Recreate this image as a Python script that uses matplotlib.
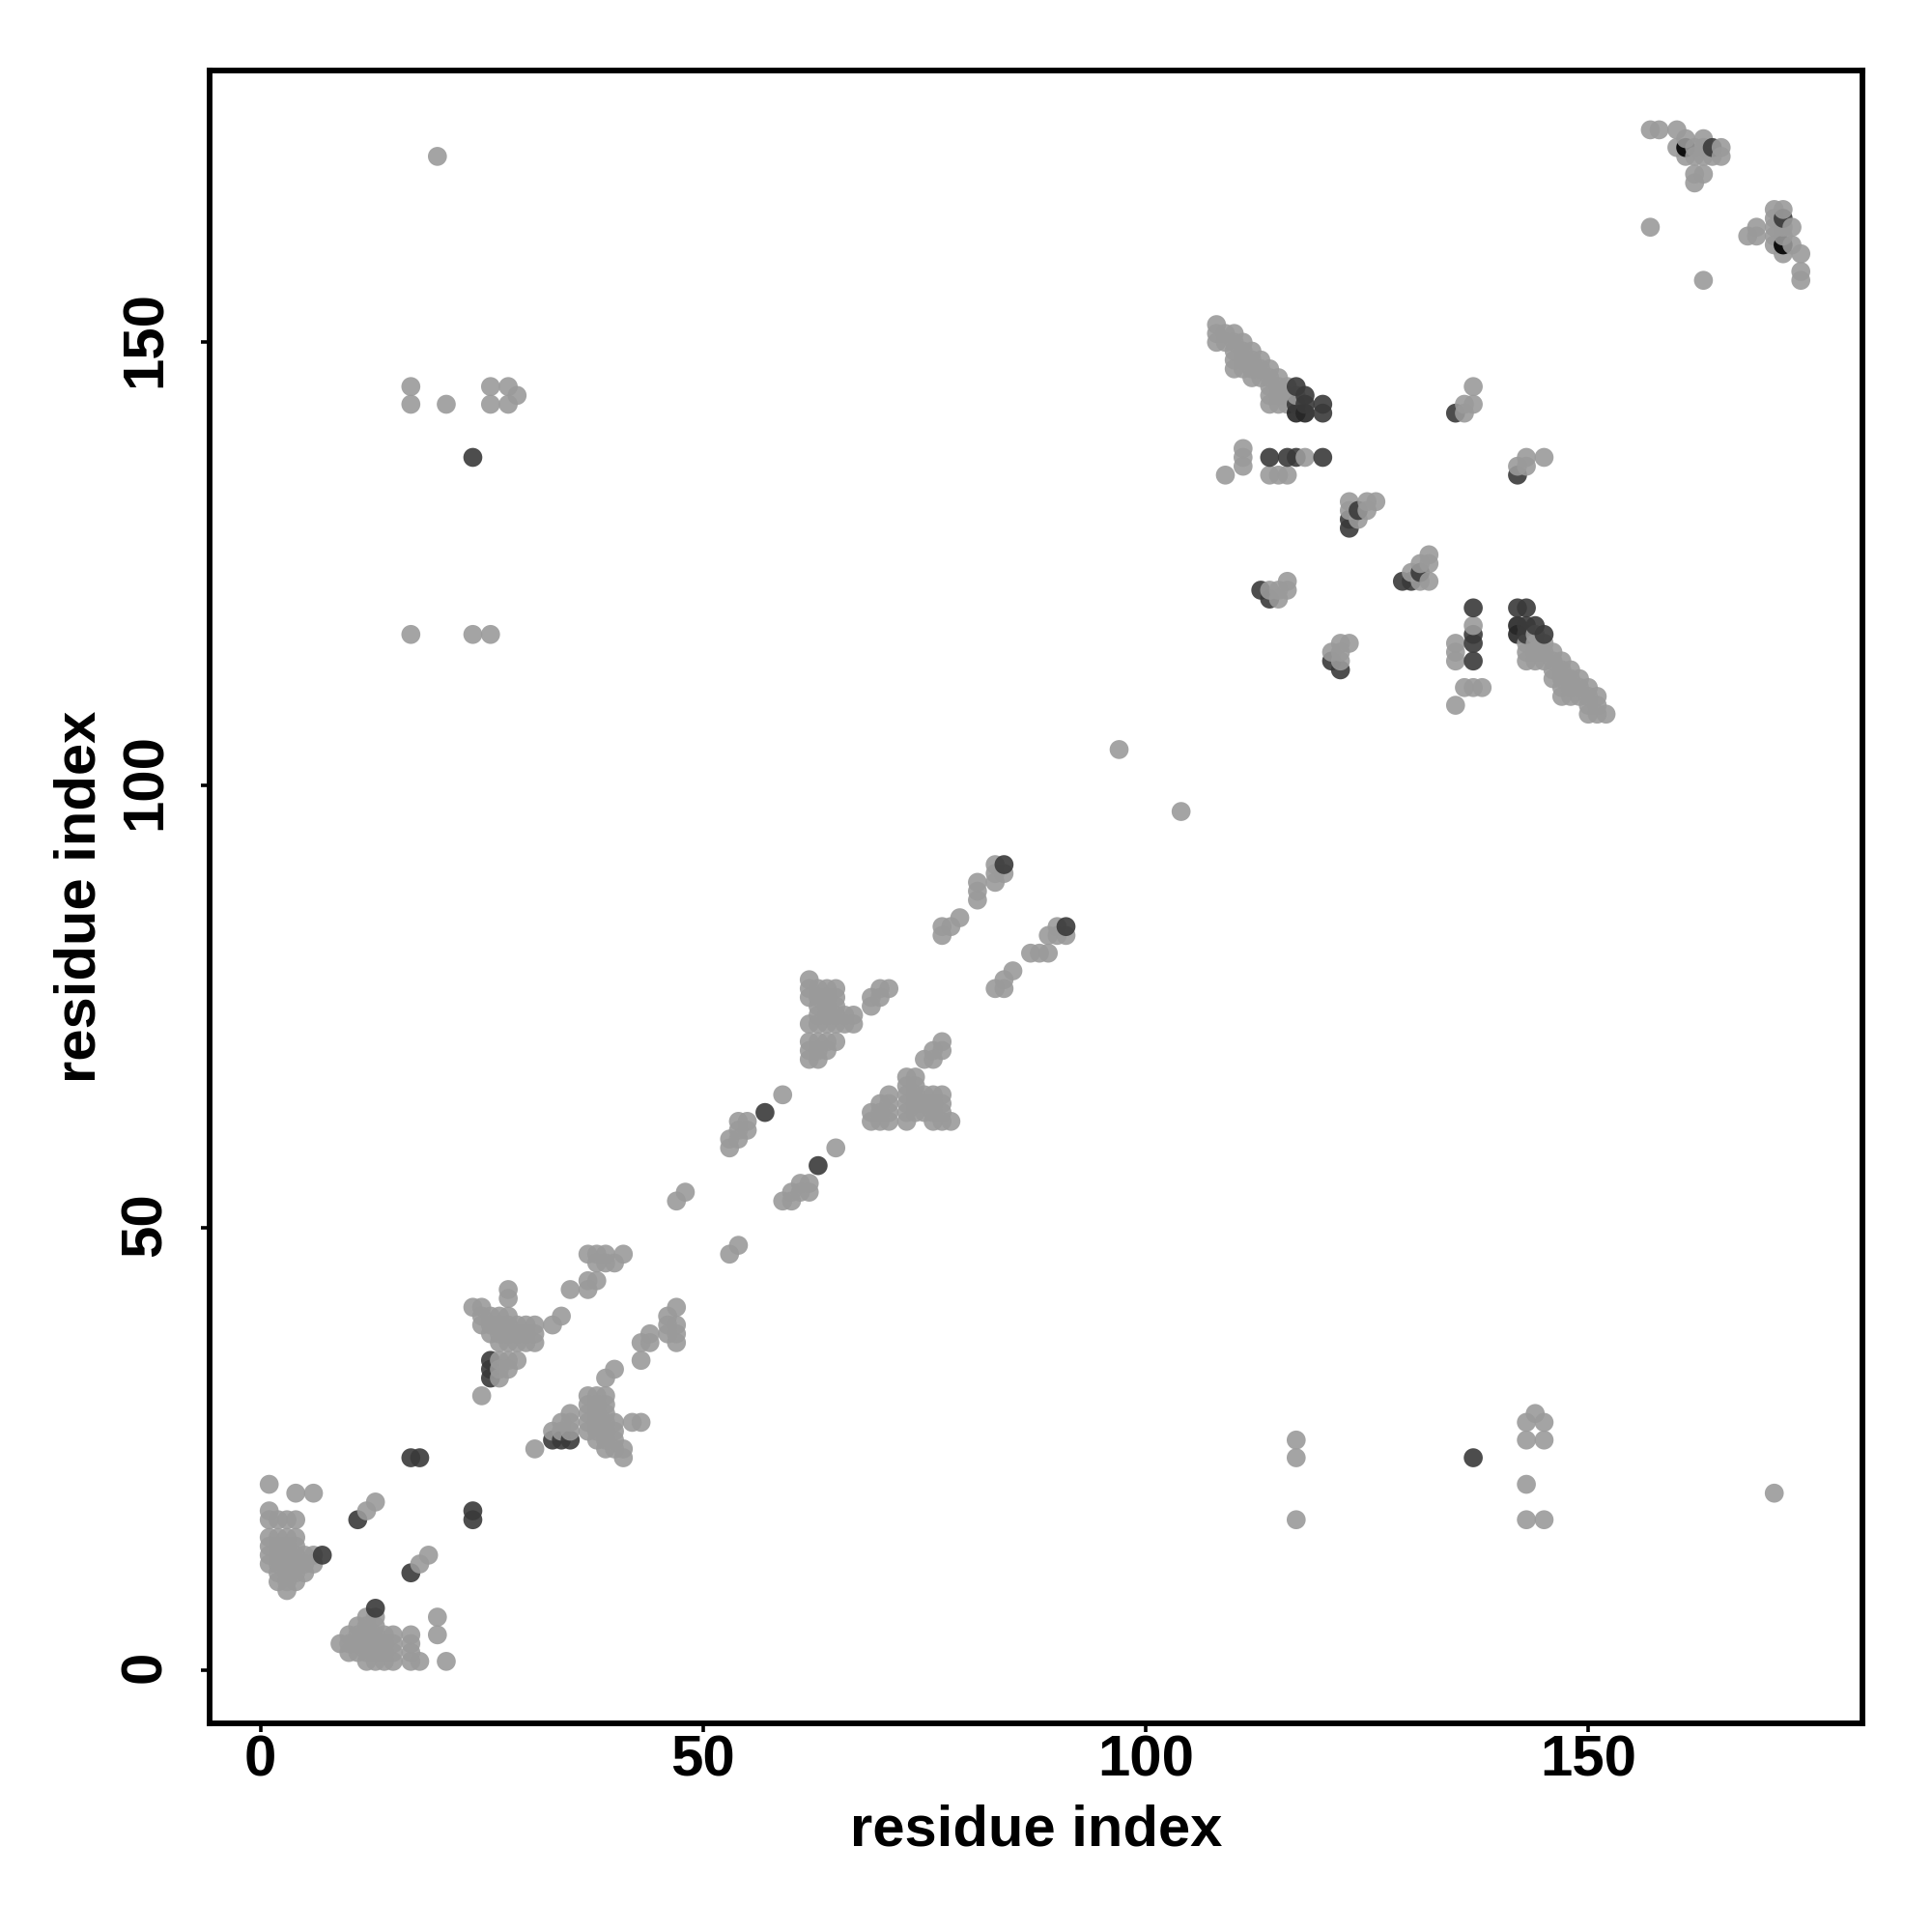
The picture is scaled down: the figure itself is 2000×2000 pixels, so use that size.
import matplotlib
matplotlib.use("Agg")
import matplotlib.pyplot as plt
from matplotlib.transforms import ScaledTranslation

# contacts as (residue, [partner residues]), only the half with residue < partner
light_contacts = [
    (1, [12, 13, 14, 15, 17, 18, 21]),
    (2, [10, 11, 12, 13, 14, 15, 17]),
    (3, [9, 10, 11, 12, 13, 14, 15, 17]),
    (4, [10, 11, 12, 13, 14, 15, 17, 20]),
    (5, [11, 12, 13]),
    (6, [12, 13, 20]),
    (12, [18]),
    (13, [19]),
    (17, [117, 143, 145]),
    (20, [171]),
    (21, [143]),
    (24, [41, 117]),
    (25, [31, 39, 40, 41]),
    (26, [38, 39, 40, 117, 143, 145]),
    (27, [33, 34, 35, 37, 38, 39, 40]),
    (28, [34, 35, 37, 38, 39, 40, 42, 43, 143, 145]),
    (29, [35, 37, 38, 39, 144]),
    (30, [37, 38, 39]),
    (31, [37, 38, 39]),
    (33, [39]),
    (34, [40]),
    (35, [43]),
    (37, [43, 44, 47]),
    (38, [44, 46, 47]),
    (39, [46, 47]),
    (40, [46]),
    (41, [47]),
    (47, [53]),
    (48, [54]),
    (53, [59, 60]),
    (54, [60, 61, 62]),
    (55, [61, 62]),
    (59, [65]),
    (62, [69, 70, 71, 73, 76, 77, 78]),
    (63, [69, 70, 71, 73, 74, 75, 76, 77]),
    (64, [70, 71, 73, 74, 75, 76, 77]),
    (65, [71, 73, 74, 75, 76, 77]),
    (66, [73, 74]),
    (67, [73, 74]),
    (69, [75, 76]),
    (70, [76, 77]),
    (71, [77]),
    (77, [83, 84]),
    (78, [84]),
    (79, [85]),
    (81, [87, 88, 89]),
    (83, [89, 90, 91]),
    (84, [90]),
    (97, [104]),
    (108, [150, 151, 152]),
    (109, [135, 150, 151]),
    (110, [147, 148, 149, 150, 151]),
    (111, [136, 137, 138, 147, 148, 149, 150]),
    (112, [146, 147, 148, 149]),
    (113, [146, 147, 148]),
    (114, [122, 135, 143, 144, 145, 146, 147]),
    (115, [121, 122, 135, 143, 144, 145, 146]),
    (116, [122, 123, 135, 143, 144, 145]),
    (117, [144]),
    (118, [137]),
    (123, [131, 132]),
    (124, [130]),
    (125, [131, 132]),
    (126, [132]),
    (136, [142, 143]),
    (137, [143, 145]),
    (157, [163, 174]),
    (158, [174]),
    (160, [172, 174]),
    (161, [171, 173]),
    (162, [168, 169, 171, 172]),
    (163, [169, 171, 172, 173]),
    (164, [171]),
    (165, [171, 172]),
]
dark_contacts = [
    (7, [13]),
    (11, [17]),
    (17, [24]),
    (18, [24]),
    (24, [137]),
    (26, [33, 34, 35]),
    (57, [63]),
    (84, [91]),
    (113, [122]),
    (114, [121, 137]),
    (116, [137]),
    (117, [137, 143, 145]),
    (118, [143, 144]),
    (120, [137, 142, 143]),
    (123, [129, 130]),
    (124, [131]),
    (135, [142]),
    (164, [172]),
]
darker_contacts = [
    (117, [142]),
    (118, [142]),
]
black_contacts = [
    (161, [172]),
]
light_colour = "#9a9a9a"
dark_colour = "#3a3a3a"
darker_colour = "#262626"
black_colour = "#000000"
tick_values = [0, 50, 100, 150]

points = []
for rows, colour in [(light_contacts, light_colour), (dark_contacts, dark_colour),
                     (darker_contacts, darker_colour), (black_contacts, black_colour)]:
    for res, partners in rows:
        for p in partners:
            points.append((res, p, colour))
            points.append((p, res, colour))
points.sort(key=lambda q: (q[0], q[1]))

plt.rcParams["font.family"] = ["Liberation Sans", "DejaVu Sans"]
plt.rcParams["font.weight"] = "bold"

fig = plt.figure(figsize=(10, 10), dpi=200)
ax = fig.add_axes([217 / 2000, 1 - 1784 / 2000, (1928 - 217) / 2000, (1784 - 73) / 2000])
ax.scatter([q[0] for q in points], [q[1] for q in points], c=[q[2] for q in points],
           s=50, linewidths=0, alpha=0.9, zorder=3)
ax.set_xlim(-5.73, 180.96)
ax.set_ylim(-6.0, 180.7)
for side in ax.spines.values():
    side.set_linewidth(2.1)
ax.set_xticks(tick_values)
ax.set_yticks(tick_values)
ax.tick_params(axis="x", length=3.2, width=1.3, labelsize=21.6, pad=1)
ax.tick_params(axis="y", length=3.2, width=1.3, labelsize=21.6, pad=10.7)
plt.setp(ax.get_yticklabels(), rotation=90, va="center")
# rotated labels sit a little low, nudge them up
for label in ax.get_yticklabels():
    label.set_transform(label.get_transform() + ScaledTranslation(0, 1.3 / 72, fig.dpi_scale_trans))
ax.set_xlabel("residue index", fontsize=21.5, fontweight="bold", labelpad=6)
ax.set_ylabel("residue index", fontsize=21.5, fontweight="bold", labelpad=4.6)

plt.savefig("out.png", dpi=200)
plt.close("all")
